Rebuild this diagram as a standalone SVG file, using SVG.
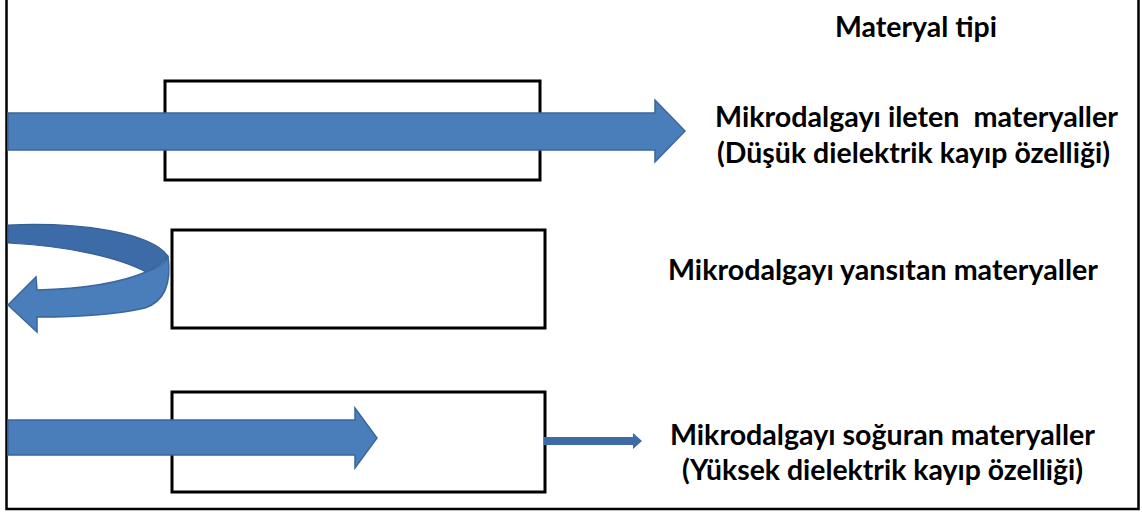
<svg xmlns="http://www.w3.org/2000/svg" width="1142" height="513" viewBox="0 0 1142 513">
<style>
.box{fill:none;stroke:#000;stroke-width:3}
.arr{fill:#4a7ebb;stroke:#3a679c;stroke-width:1.5}
.back{fill:#3d6ba8;stroke:#345e93;stroke-width:1.2}
.t{font-family:Lato,"Open Sans","Liberation Sans",sans-serif;font-weight:bold;font-size:28px;fill:#000}
</style>
<rect x="0" y="0" width="1142" height="513" fill="#fff"/>
<path d="M6.5 0 V509 H1138.5 V0" fill="none" stroke="#000" stroke-width="2.5"/>
<g id="box1"><rect class="box" x="165" y="81" width="375" height="99"/></g>
<g id="box2"><rect class="box" x="172" y="230" width="373" height="98"/></g>
<g id="box3"><rect class="box" x="172" y="392" width="373" height="100"/></g>
<g id="connectors">
<path class="arr" d="M8 113 H655 V100 L685 131 L655 162 V150 H8 Z"/>
<path class="back" d="M8 225 C80 222 150 232 168 256 C162 264 155 268 146 272 C120 258 70 246 8 243 Z"/>
<path class="arr" d="M146 272 C158 268 166 262 168 256 C171 278 168 300 145 308 C110 316 70 317 37 317 L37 332 L8 305 L36 277 L37 290 C80 289 120 283 146 272 Z"/>
<path class="arr" d="M8 420 H355 V408 L377 438 L355 468 V455 H8 Z"/>
<path fill="#3e6ba6" d="M544 437 H633 V433 L642 441 L633 449 V445 H544 Z"/>
</g>
<g id="labels">
<text class="t" x="835" y="37" textLength="162" lengthAdjust="spacingAndGlyphs">Materyal tipi</text>
<text class="t" x="715" y="127" textLength="403" lengthAdjust="spacingAndGlyphs" xml:space="preserve">Mikrodalgayı ileten  materyaller</text>
<text class="t" x="717" y="163" textLength="393" lengthAdjust="spacingAndGlyphs">(Düşük dielektrik kayıp özelliği)</text>
<text class="t" x="668" y="280" textLength="430" lengthAdjust="spacingAndGlyphs">Mikrodalgayı yansıtan materyaller</text>
<text class="t" x="670" y="445" textLength="425" lengthAdjust="spacingAndGlyphs">Mikrodalgayı soğuran materyaller</text>
<text class="t" x="682" y="480" textLength="401" lengthAdjust="spacingAndGlyphs">(Yüksek dielektrik kayıp özelliği)</text>
</g>
</svg>
